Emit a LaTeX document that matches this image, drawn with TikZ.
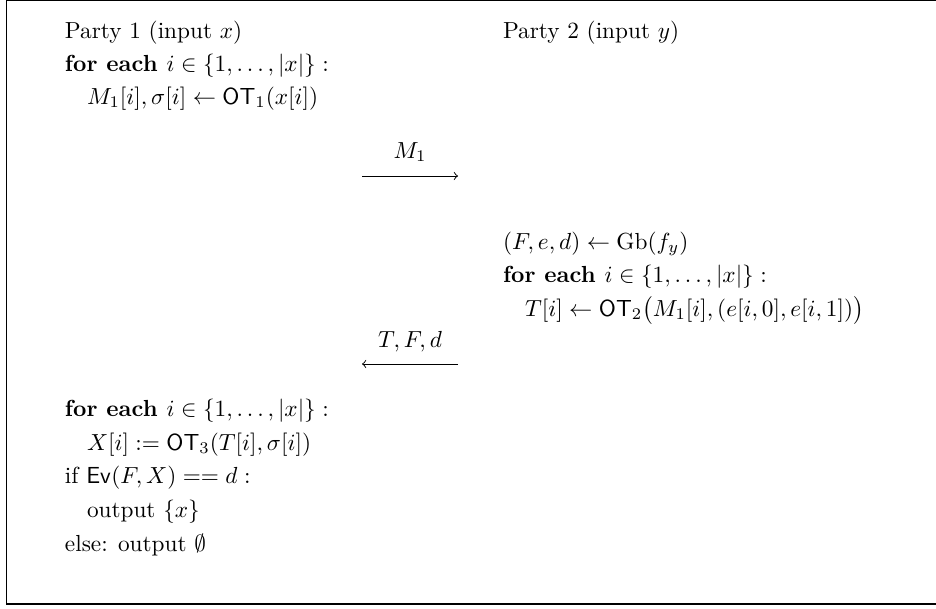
\documentclass[tikz,border=0pt]{standalone}
\usepackage{amsmath,amssymb}
\begin{document}
\begin{tikzpicture}[x=0.43pt,y=-0.43pt,
  txt/.style={anchor=base west,inner sep=0pt,outer sep=0pt},
  lbl/.style={anchor=base,inner sep=0pt,outer sep=0pt},
  msg/.style={line width=0.4pt,-to}]
\useasboundingbox (0,0) rectangle (936,608);
\begin{scope}
\clip (0,0) rectangle (936,608);
\draw[line width=0.6pt] (6.5,0.5) rectangle (950,604);
\end{scope}
% Party 1
\node[txt] (p1) at (65,38) {Party 1 (input $x$)};
\node[txt] (l1) at (65,71) {$\textbf{for each } i\in\{1,\ldots,|x|\}:$};
\node[txt] (l2) at (87,104) {$M_1[i],\sigma[i]\leftarrow\mathsf{OT}_1(x[i])$};
% Party 2
\node[txt] (p2) at (503,38) {Party 2 (input $y$)};
\node[txt] (r1) at (503,249) {$(F,e,d)\leftarrow\mathrm{Gb}(f_y)$};
\node[txt] (r2) at (503,282) {$\textbf{for each } i\in\{1,\ldots,|x|\}:$};
\node[txt] (r3) at (525,316) {$T[i]\leftarrow\mathsf{OT}_2\big(M_1[i],(e[i,0],e[i,1])\big)$};
% messages
\coordinate (m1s) at (362,176);
\coordinate (m1e) at (458,176);
\draw[msg] (m1s) -- (m1e);
\node[lbl] (m1l) at (410,158) {$M_1$};
\coordinate (m2s) at (458,364);
\coordinate (m2e) at (362,364);
\draw[msg] (m2s) -- (m2e);
\node[lbl] (m2l) at (410,347) {$T,F,d$};
% Party 1 final
\node[txt] (b1) at (65,416) {$\textbf{for each } i\in\{1,\ldots,|x|\}:$};
\node[txt] (b2) at (87,450) {$X[i]:=\mathsf{OT}_3(T[i],\sigma[i])$};
\node[txt] (b3) at (65,483) {if $\mathsf{Ev}(F,X)==d:$};
\node[txt] (b4) at (87,517) {output $\{x\}$};
\node[txt] (b5) at (65,551) {else: output $\emptyset$};
\end{tikzpicture}
\end{document}
